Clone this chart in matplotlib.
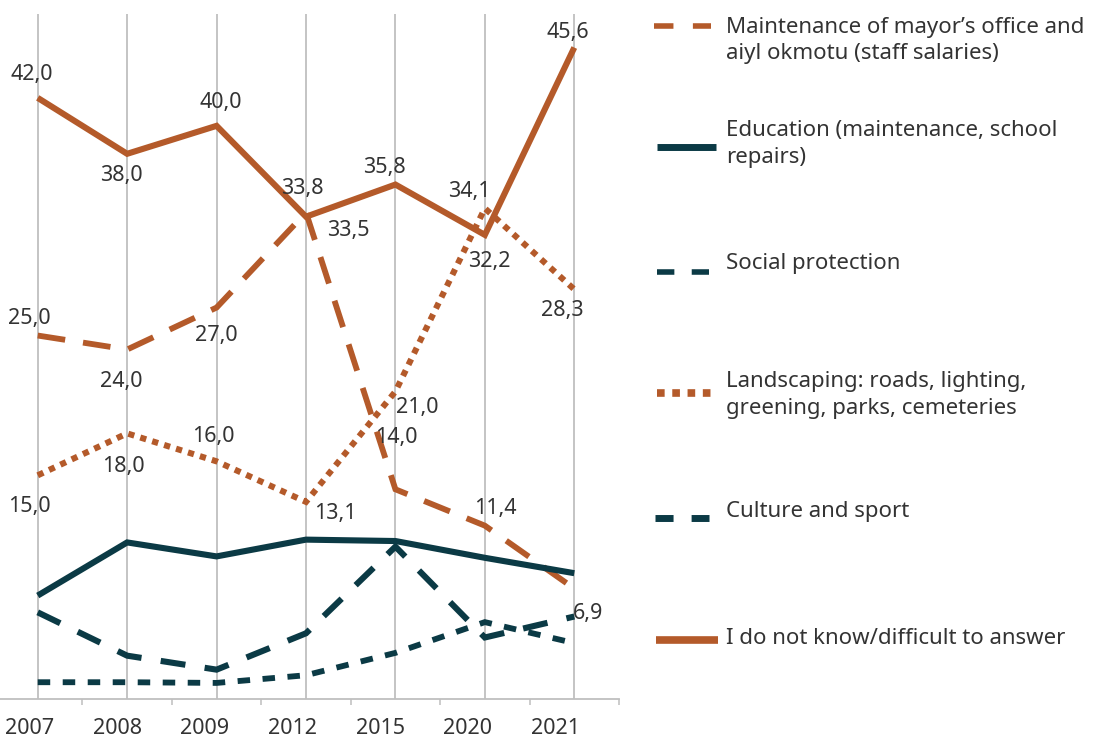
import matplotlib
matplotlib.use("Agg")
import matplotlib.pyplot as plt

plt.rcParams["font.family"] = ["Noto Sans", "DejaVu Sans"]
plt.rcParams["lines.scale_dashes"] = False

# Survey shares by year, %
years = ["2007", "2008", "2009", "2012", "2015", "2020", "2021"]
maintenance = [25.0, 24.0, 27.0, 33.8, 14.0, 11.4, 6.9]
education = [6.4, 10.2, 9.2, 10.4, 10.3, 9.1, 8.0]
social = [0.2, 0.2, 0.15, 0.7, 2.3, 4.5, 3.0]
landscaping = [15.0, 18.0, 16.0, 13.1, 21.0, 34.1, 28.3]
culture = [5.2, 2.1, 1.1, 3.7, 9.9, 3.4, 4.9]
dont_know = [42.0, 38.0, 40.0, 33.5, 35.8, 32.2, 45.6]

names = [
    "Maintenance of mayor\u2019s office and\naiyl okmotu (staff salaries)",
    "Education (maintenance, school\nrepairs)",
    "Social protection",
    "Landscaping: roads, lighting,\ngreening, parks, cemeteries",
    "Culture and sport",
    "I do not know/difficult to answer",
]

ORANGE = "#B45A2A"
DARK = "#0B3A45"
GRID = "#BFBFBF"
TEXT = "#333333"

# label offsets in pixels (right, down) from each point
maint_off = [(-8, -17), (-6, 32), (0, 28), (-4, -24), (1, -52), (10, -17), (14, 25)]
land_off = [(-8, 31), (-4, 33), (-3, -25), (29, 12), (22, 16), (-16, -17), (-12, 21)]
dk_off = [(-6, -23), (-6, 22), (4, -23), (42, 14), (-11, -17), (4, 27), (-6, -15)]

W, H = 1106, 742
fig = plt.figure(figsize=(W / 100, H / 100), dpi=100)
ax = fig.add_axes([-7 / W, (H - 699) / H, 626 / W, 685 / H])

x = list(range(len(years)))
styles = [
    (maintenance, ORANGE, 4.2, (0, (20, 13))),
    (education, DARK, 4.4, "-"),
    (social, DARK, 4.2, (0, (9, 9))),
    (landscaping, ORANGE, 4.4, (0, (4.5, 4.5))),
    (culture, DARK, 4.4, (0, (18, 14))),
    (dont_know, ORANGE, 4.4, "-"),
]
for k, (vals, col, lw, ls) in enumerate(styles):
    ax.plot(x, vals, color=col, lw=lw, ls=ls, solid_capstyle="butt",
            dash_capstyle="butt", solid_joinstyle="miter",
            dash_joinstyle="miter", zorder=3 + k)


def fmt(v):
    return f"{v:.1f}".replace(".", ",")


for vals, offs in [(maintenance, maint_off), (landscaping, land_off),
                   (dont_know, dk_off)]:
    for i, (v, (dx, dy)) in enumerate(zip(vals, offs)):
        ax.annotate(fmt(v), (i, v), xytext=(dx, -dy), textcoords="offset pixels",
                    ha="center", va="center", fontsize=15.5, color=TEXT,
                    zorder=20)

ax.set_xlim(-0.5, 6.5)
ax.set_ylim(-1, 48)
ax.set_xticks(x)
ax.set_xticklabels([])
ax.tick_params(axis="x", which="major", length=0)
ax.set_xticks([i + 0.5 for i in range(-1, 7)], minor=True)
ax.tick_params(axis="x", which="minor", length=4.3, width=1.1, color=GRID,
               direction="out")
ax.set_yticks([])
ax.grid(axis="x", color=GRID, lw=1.3, zorder=1)
for side in ["top", "left", "right"]:
    ax.spines[side].set_visible(False)
ax.spines["bottom"].set_color(GRID)
ax.spines["bottom"].set_linewidth(1.3)
ax.set_facecolor("none")

for i, yr in enumerate(years):
    ax.text(i - 0.09 - 0.02 * i, -3.08, yr, ha="center", va="center",
            fontsize=15.5, color=TEXT, clip_on=False)

# legend drawn by hand on an overlay in pixel coordinates
lg = fig.add_axes([0, 0, 1, 1])
lg.set_xlim(0, W)
lg.set_ylim(H, 0)
lg.axis("off")
lg.patch.set_alpha(0)

entries = [
    (ORANGE, 4.0, (0, (14, 14)), 654, 711, 26, 40.5),
    (DARK, 5.0, "-", 657, 716, 147, 144),
    (DARK, 4.0, (0, (12.5, 12.5)), 657, 709, 272, 264),
    (ORANGE, 5.5, (0, (5.5, 5.5)), 657, 711, 393, 395),
    (DARK, 5.0, (0, (13, 13)), 655, 709, 518, 512),
    (ORANGE, 5.5, "-", 656, 718, 640, 638),
]
for name, (col, lw, ls, x0, x1, ys, yt) in zip(names, entries):
    lg.plot([x0, x1], [ys, ys], color=col, lw=lw, ls=ls,
            solid_capstyle="butt", dash_capstyle="butt")
    lg.text(726, yt, name, ha="left", va="center", fontsize=16, color=TEXT,
            linespacing=1.32)

fig.savefig("out.png", dpi=100)
